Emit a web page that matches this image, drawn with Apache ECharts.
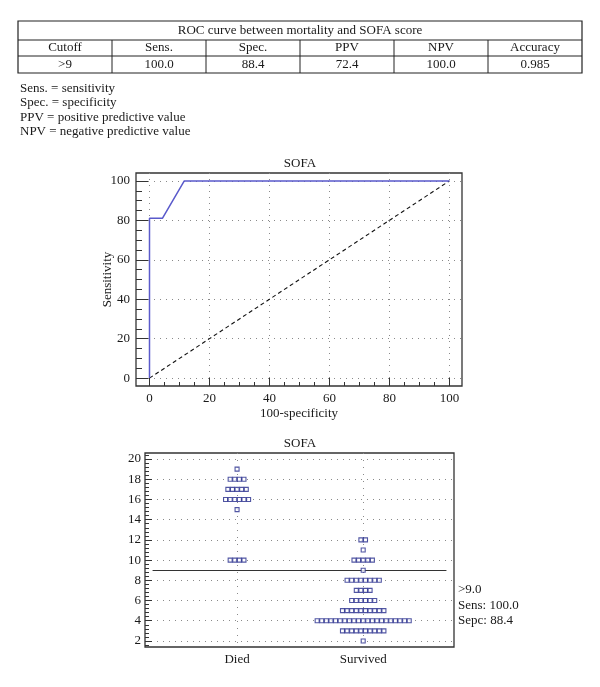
<!DOCTYPE html>
<html><head><meta charset="utf-8">
<script src="https://cdn.jsdelivr.net/npm/echarts@6/dist/echarts.min.js"></script>
<style>html,body{margin:0;padding:0;background:#fff}#c{width:600px;height:687px}</style>
</head><body><div id="c"></div>
<script>
// ---- data ----
const tableTitle = 'ROC curve between mortality and SOFA score';
const tableHeaders = ['Cutoff', 'Sens.', 'Spec.', 'PPV', 'NPV', 'Accuracy'];
const tableValues = ['>9', '100.0', '88.4', '72.4', '100.0', '0.985'];
const notes = ['Sens. = sensitivity', 'Spec. = specificity', 'PPV = positive predictive value', 'NPV = negative predictive value'];
const rocX = [0, 0, 4.3, 11.6, 100];
const rocY = [0, 81, 81, 100, 100];
const refX = [0, 100];
const refY = [0, 100];
const rocTicks = [0, 20, 40, 60, 80, 100];
const dotTicks = [2, 4, 6, 8, 10, 12, 14, 16, 18, 20];
const groups = ['Died', 'Survived'];
const diedLevels = [19, 18, 17, 16, 15, 10];
const diedCounts = [1, 4, 5, 6, 1, 4];
const survLevels = [12, 11, 10, 9, 8, 7, 6, 5, 4, 3, 2];
const survCounts = [2, 1, 5, 1, 8, 4, 6, 10, 21, 10, 1];
const cutoff = 9;
const cutoffText = ['>9.0', 'Sens: 100.0', 'Sepc: 88.4'];

// ---- helpers ----
const FONT = "'Liberation Serif','DejaVu Serif',serif";
const TXT = '#1a1a1a';
function range(a, b, s) { const o = []; for (let v = a; v <= b + 1e-9; v += s) o.push(Math.round(v * 100) / 100); return o; }
const dotStep = 0.0365;
function buildDots(gx, levels, counts) {
  const out = [];
  levels.forEach((lv, i) => {
    const n = counts[i];
    for (let k = 0; k < n; k++) out.push([gx + (k - (n - 1) / 2) * dotStep, lv]);
  });
  return out;
}

// ---- table graphic ----
const tL = 18, tR = 582, rowsY = [21, 40, 56, 73];
const colW = (tR - tL) / tableHeaders.length;
const graphics = [];
const lineStyle = { stroke: '#222', lineWidth: 1 };
graphics.push({ type: 'rect', shape: { x: tL, y: rowsY[0], width: tR - tL, height: rowsY[3] - rowsY[0] }, style: { fill: 'none', stroke: '#222', lineWidth: 1.2 } });
graphics.push({ type: 'line', shape: { x1: tL, y1: rowsY[1], x2: tR, y2: rowsY[1] }, style: lineStyle });
graphics.push({ type: 'line', shape: { x1: tL, y1: rowsY[2], x2: tR, y2: rowsY[2] }, style: lineStyle });
for (let i = 1; i < tableHeaders.length; i++) {
  const x = tL + colW * i;
  graphics.push({ type: 'line', shape: { x1: x, y1: rowsY[1], x2: x, y2: rowsY[3] }, style: lineStyle });
}
function txt(text, x, y, align, size) {
  return { type: 'text', style: { text: text, x: x, y: y, font: (size || 13) + 'px ' + FONT, fill: TXT, align: align, textAlign: align, verticalAlign: 'middle', textVerticalAlign: 'middle' } };
}
graphics.push(txt(tableTitle, (tL + tR) / 2, (rowsY[0] + rowsY[1]) / 2, 'center'));
tableHeaders.forEach((h, i) => graphics.push(txt(h, tL + colW * (i + 0.5), (rowsY[1] + rowsY[2]) / 2, 'center')));
tableValues.forEach((h, i) => graphics.push(txt(h, tL + colW * (i + 0.5), (rowsY[2] + rowsY[3]) / 2 + 0.5, 'center')));
notes.forEach((n, i) => graphics.push(txt(n, 20, 88.5 + i * 14.3, 'left')));
cutoffText.forEach((n, i) => graphics.push(txt(n, 458, 590 + i * 15.3, 'left')));

// ---- chart ----
const chart = echarts.init(document.getElementById('c'), null, { renderer: 'canvas' });
const labelStyle = { color: TXT, fontSize: 13, fontFamily: FONT };
const gridLine = { show: true, lineStyle: { color: '#8a8a8a', type: [1, 5], width: 1 } };
const tickLine = { color: '#333', width: 1 };

const option = {
  animation: false,
  backgroundColor: '#fff',
  textStyle: { fontFamily: FONT },
  title: [
    { text: 'SOFA', left: 'center', top: 157, textStyle: { fontSize: 13, fontWeight: 'normal', color: TXT, fontFamily: FONT }, padding: 0 },
    { text: 'SOFA', left: 'center', top: 437, textStyle: { fontSize: 13, fontWeight: 'normal', color: TXT, fontFamily: FONT }, padding: 0 }
  ],
  grid: [
    { left: 136, top: 173, width: 326, height: 213, show: true, borderColor: '#333', borderWidth: 1.3, backgroundColor: 'transparent' },
    { left: 145, top: 453, width: 309, height: 194, show: true, borderColor: '#333', borderWidth: 1.3, backgroundColor: 'transparent' }
  ],
  xAxis: [
    { gridIndex: 0, type: 'value', position: 'bottom', offset: 0, min: -4.5, max: 104.2,
      axisLine: { show: false, onZero: false },
      axisTick: { show: true, inside: true, length: 8, customValues: rocTicks, lineStyle: tickLine },
      axisLabel: { customValues: rocTicks, margin: 6, ...labelStyle },
      splitLine: gridLine,
      name: '100-specificity', nameLocation: 'middle', nameGap: 21, nameTextStyle: labelStyle },
    { gridIndex: 0, type: 'value', position: 'bottom', offset: 0, min: -4.5, max: 104.2,
      axisLine: { show: false, onZero: false },
      axisTick: { show: true, inside: true, length: 4, customValues: range(0, 100, 5), lineStyle: tickLine },
      axisLabel: { show: false }, splitLine: { show: false } },
    { gridIndex: 1, type: 'value', position: 'bottom', offset: 0, min: 0.27, max: 2.72,
      axisLine: { show: false, onZero: false },
      axisTick: { show: false, customValues: [1, 2] },
      axisLabel: { customValues: [1, 2], margin: 6, formatter: v => groups[Math.round(v) - 1], ...labelStyle },
      splitLine: { show: true, lineStyle: { color: '#8a8a8a', type: [1, 6], width: 1 } } }
  ],
  yAxis: [
    { gridIndex: 0, type: 'value', position: 'left', offset: 0, min: -4, max: 104,
      axisLine: { show: false, onZero: false },
      axisTick: { show: true, inside: true, length: 12, customValues: rocTicks, lineStyle: tickLine },
      axisLabel: { customValues: rocTicks, margin: 6, ...labelStyle },
      splitLine: gridLine,
      name: 'Sensitivity', nameLocation: 'middle', nameGap: 22, nameMoveOverlap: false, nameTextStyle: labelStyle },
    { gridIndex: 0, type: 'value', position: 'left', offset: 0, min: -4, max: 104,
      axisLine: { show: false, onZero: false },
      axisTick: { show: true, inside: true, length: 6, customValues: range(0, 100, 5), lineStyle: tickLine },
      axisLabel: { show: false }, splitLine: { show: false } },
    { gridIndex: 1, type: 'value', position: 'left', offset: 0, min: 1.4, max: 20.6,
      axisLine: { show: false, onZero: false },
      axisTick: { show: true, inside: true, length: 7, customValues: dotTicks, lineStyle: tickLine },
      axisLabel: { customValues: dotTicks, margin: 4, ...labelStyle },
      splitLine: gridLine },
    { gridIndex: 1, type: 'value', position: 'left', offset: 0, min: 1.4, max: 20.6,
      axisLine: { show: false, onZero: false },
      axisTick: { show: true, inside: true, length: 4, customValues: range(1.6, 20.4, 0.4), lineStyle: tickLine },
      axisLabel: { show: false }, splitLine: { show: false } }
  ],
  series: [
    { type: 'line', xAxisIndex: 0, yAxisIndex: 0, data: rocX.map((x, i) => [x, rocY[i]]),
      showSymbol: false, symbol: 'none', lineStyle: { color: '#5a5acb', width: 1.5 }, z: 5 },
    { type: 'line', xAxisIndex: 0, yAxisIndex: 0, data: refX.map((x, i) => [x, refY[i]]),
      showSymbol: false, symbol: 'none', lineStyle: { color: '#111', width: 1.1, type: [4, 3] }, z: 4 },
    { type: 'scatter', xAxisIndex: 2, yAxisIndex: 2, data: buildDots(1, diedLevels, diedCounts),
      symbol: 'rect', symbolSize: 4, itemStyle: { color: '#fff', borderColor: '#262c8c', borderWidth: 1.1 }, z: 5 },
    { type: 'scatter', xAxisIndex: 2, yAxisIndex: 2, data: buildDots(2, survLevels, survCounts),
      symbol: 'rect', symbolSize: 4, itemStyle: { color: '#fff', borderColor: '#262c8c', borderWidth: 1.1 }, z: 5,
      markLine: { silent: true, symbol: 'none', label: { show: false }, lineStyle: { color: '#333', type: 'solid', width: 1.2 },
        data: [[{ coord: [0.33, cutoff] }, { coord: [2.66, cutoff] }]] } }
  ],
  graphic: graphics
};
chart.setOption(option);
</script>
</body></html>
